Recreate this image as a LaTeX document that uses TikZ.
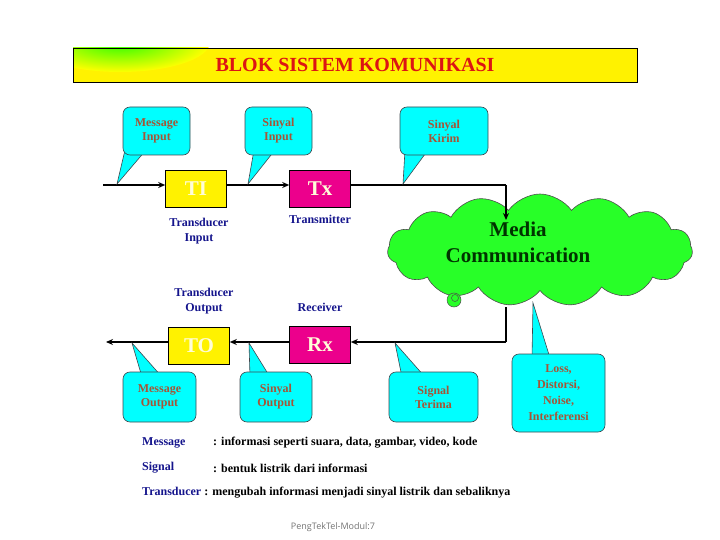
\documentclass[tikz,border=0pt]{standalone}
\usepackage{fontspec}
\setmainfont{Liberation Serif}
\newfontfamily\footfont{Open Sans}
\usetikzlibrary{shapes.symbols,arrows.meta}
\definecolor{cbrown}{RGB}{165,85,55}
\definecolor{cnavy}{RGB}{20,20,140}
\definecolor{ccyan}{RGB}{0,255,255}
\definecolor{cgreen}{RGB}{40,255,40}
\definecolor{ctitle}{RGB}{220,20,20}
\tikzset{
  callout/.style={draw=black!80!cyan, fill=ccyan, rounded corners=7pt, line width=0.6pt,
    align=center, font=\bfseries\fontsize{12}{14}\selectfont, text=cbrown},
  ptr/.style={draw=black!80!cyan, fill=ccyan, line width=0.6pt},
  blk/.style={draw=black, line width=0.6pt, minimum width=61pt, minimum height=37pt,
    font=\bfseries\fontsize{21}{21}\selectfont, text=white!85!yellow},
  lbl/.style={align=center, font=\bfseries\fontsize{12}{15}\selectfont, text=cnavy},
  wire/.style={line width=2pt, -{Stealth[length=7pt,width=6pt]}},
  plain/.style={line width=2pt},
  deftxt/.style={anchor=west, font=\bfseries\fontsize{12}{14}\selectfont, inner sep=0pt}
}
\begin{document}
\begin{tikzpicture}[x=1pt,y=-1pt]
\useasboundingbox (0,0) rectangle (720,540);
% title
\begin{scope}
\clip (73,48) rectangle (637,82);
\fill[yellow] (73,48) rectangle (637,82);
\shade[inner color=green!85!yellow, outer color=yellow] (120,42) ellipse (90pt and 30pt);
\end{scope}
\node[draw=black, line width=0.8pt, minimum width=564pt, minimum height=34pt,
  font=\bfseries\fontsize{20}{20}\selectfont, text=ctitle] (title) at (355,65) {BLOK SISTEM KOMUNIKASI};

% blocks
\node[blk, fill=yellow] (TI) at (196,189) {TI};
\node[blk, fill=magenta] (Tx) at (320,189) {Tx};
\node[blk, fill=yellow] (TO) at (199,346) {TO};
\node[blk, fill=magenta] (Rx) at (320,345) {Rx};

% cloud
\node[cloud, cloud puffs=15, cloud puff arc=110, aspect=2.9, draw=black!70, fill=cgreen,
  line width=0.6pt, minimum width=305pt, minimum height=112pt, inner sep=0pt] (cloud) at (540,250) {};
\node[font=\bfseries\fontsize{21}{26}\selectfont, text=black!80!green, align=center] (media) at (518,242) {Media\\Communication};
\node[circle, draw=black!70, fill=cgreen, minimum size=14pt, inner sep=0pt, line width=0.5pt] (small) at (454,300) {};
\node[circle, draw=black!70, minimum size=7pt, inner sep=0pt, line width=0.5pt] (small2) at (455,298) {};

% wires
\coordinate (inL) at (103,185);
\coordinate (outL) at (106,342);
\coordinate (kirim) at (506,185);
\coordinate (cin) at (506,220);
\coordinate (cout) at (506,307);
\coordinate (terima) at (506,342);
\draw[wire] (inL) -- (TI.west |- inL);
\draw[wire] (TI.east |- inL) -- (Tx.west |- inL);
\draw[plain] (Tx.east |- kirim) -- (kirim);
\draw[wire, line width=1.5pt] (kirim) -- (cin);
\draw[plain] (cout) -- (terima);
\draw[wire] (terima) -- (Rx.east |- terima);
\draw[wire] (Rx.west |- outL) -- (TO.east |- outL);
\draw[wire] (TO.west |- outL) -- (outL);

% labels
\node[lbl] (lti) at (199,231) {Transducer\\Input};
\node[lbl] (ltx) at (320,219) {Transmitter};
\node[lbl] (lto) at (204,301) {Transducer\\Output};
\node[lbl] (lrx) at (320,307) {Receiver};

% callouts (pointers first)
\coordinate (t1) at (117,184);
\coordinate (t2) at (248,184);
\coordinate (t3) at (403,184);
\coordinate (t4) at (132,343);
\coordinate (t5) at (249,343);
\coordinate (t6) at (395,343);
\coordinate (t7) at (533,303);
\filldraw[ptr] (125,150) -- (t1) -- (146,150);
\filldraw[ptr] (254,150) -- (t2) -- (275,150);
\filldraw[ptr] (405,150) -- (t3) -- (428,150);
\filldraw[ptr] (142,377) -- (t4) -- (162,377);
\filldraw[ptr] (250,377) -- (t5) -- (270,377);
\filldraw[ptr] (402,377) -- (t6) -- (425,377);
\filldraw[ptr] (532,358) -- (t7) -- (550,358);
\node[callout, minimum width=67pt, minimum height=48pt] (c1) at (156.5,131) {Message\\Input};
\node[callout, minimum width=67pt, minimum height=48pt] (c2) at (278.5,131) {Sinyal\\Input};
\node[callout, minimum width=88pt, minimum height=48pt] (c3) at (444,131) {Sinyal\\Kirim};
\node[callout, minimum width=73pt, minimum height=50pt] (c4) at (159.5,397) {Message\\Output};
\node[callout, minimum width=72pt, minimum height=50pt] (c5) at (276,397) {Sinyal\\Output};
\node[callout, minimum width=89pt, minimum height=50pt] (c6) at (433.5,397) {Signal\\Terima};
\node[callout, minimum width=93pt, minimum height=78pt, font=\bfseries\fontsize{12}{16}\selectfont] (c7) at (558.5,393) {Loss,\\Distorsi,\\Noise,\\Interferensi};

% definitions
\node[deftxt, text=cnavy] (d1) at (142,443) {Message};
\node[deftxt] (d1b) at (213,443) {: informasi seperti suara, data, gambar, video, kode};
\node[deftxt, text=cnavy] (d2) at (142,468) {Signal};
\node[deftxt] (d2b) at (213,468) {: bentuk listrik dari informasi};
\node[deftxt] (d3) at (142,493) {\textcolor{cnavy}{Transducer} : mengubah informasi menjadi sinyal listrik dan sebaliknya};
\node[font=\footfont\fontsize{9}{11}\selectfont, text=black!55] (foot) at (333,527) {PengTekTel-Modul:7};
\end{tikzpicture}
\end{document}
